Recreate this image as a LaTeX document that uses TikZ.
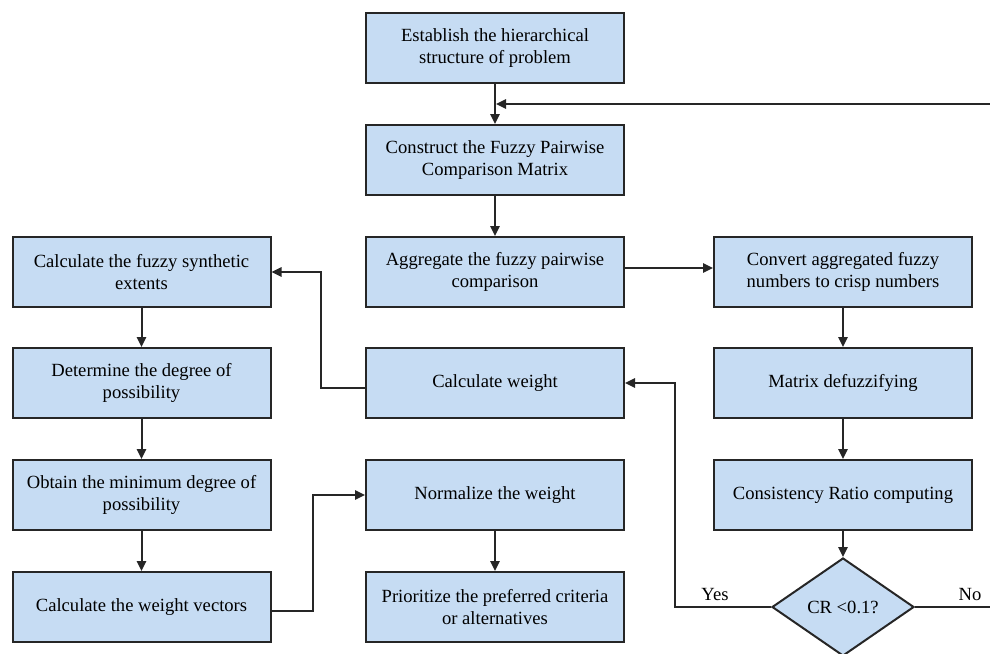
\documentclass[tikz,border=0pt]{standalone}
\usepackage{fontspec}
\setmainfont{Liberation Serif}
\usetikzlibrary{shapes.geometric,arrows.meta}
\definecolor{boxfill}{HTML}{C6DCF3}
\definecolor{linec}{HTML}{262626}
\tikzset{
  flowbox/.style={draw=linec, line width=1pt, fill=boxfill, minimum width=129pt, minimum height=35pt, inner sep=1pt, align=center, text=black, font=\fontsize{9.3}{10.85}\selectfont},
  decbox/.style={diamond, draw=linec, line width=1pt, fill=boxfill, minimum width=71pt, minimum height=49pt, inner sep=0pt, aspect=1.45, text=black, font=\fontsize{9.3}{10.85}\selectfont},
  conn/.style={draw=linec, line width=1pt},
  arr/.style={conn, -{Triangle[length=5pt,width=4.6pt]}},
  lbl/.style={font=\fontsize{9.3}{10.85}\selectfont, text=black, inner sep=0pt}
}
\begin{document}
\begin{tikzpicture}[x=0.5pt,y=-0.5pt]
\useasboundingbox (0,0) rectangle (990,653);
\clip (0,0) rectangle (990,653);
% middle column
\node[flowbox] (n1) at (495,48) {Establish the hierarchical\\structure of problem};
\node[flowbox] (n2) at (495,160) {Construct the Fuzzy Pairwise\\Comparison Matrix};
\node[flowbox] (n3) at (495,272) {Aggregate the fuzzy pairwise\\comparison};
\node[flowbox] (n4) at (495,383) {Calculate weight};
\node[flowbox] (n5) at (495,495) {Normalize the weight};
\node[flowbox] (n6) at (495,607) {Prioritize the preferred criteria\\or alternatives};
% left column
\node[flowbox] (l1) at (141.5,272) {Calculate the fuzzy synthetic\\extents};
\node[flowbox] (l2) at (141.5,383) {Determine the degree of\\possibility};
\node[flowbox] (l3) at (141.5,495) {Obtain the minimum degree of\\possibility};
\node[flowbox] (l4) at (141.5,607) {Calculate the weight vectors};
% right column
\node[flowbox] (r1) at (843,272) {Convert aggregated fuzzy\\numbers to crisp numbers};
\node[flowbox] (r2) at (843,383) {Matrix defuzzifying};
\node[flowbox] (r3) at (843,495) {Consistency Ratio computing};
\node[decbox] (d) at (843,607) {CR <0.1?};
% labels
\node[lbl] (yes) at (715,594) {Yes};
\node[lbl] (no) at (970,594) {No};
% coordinates
\coordinate (m) at (496,104);
% connectors
\draw[arr] (n1) -- (n2);
\draw[arr] (n2) -- (n3);
\draw[arr] ([yshift=2pt]n3.east) -- ([yshift=2pt]r1.west);
\draw[arr] (r1) -- (r2);
\draw[arr] (r2) -- (r3);
\draw[arr] (r3) -- (d);
\draw[arr] (n5) -- (n6);
\draw[arr] (l1) -- (l2);
\draw[arr] (l2) -- (l3);
\draw[arr] (l3) -- (l4);
\draw[arr] ([yshift=-2.5pt]n4.west) -| (321,330) |- (l1.east);
\draw[arr] ([yshift=-2pt]l4.east) -| (313,550) |- (n5.west);
\draw[arr] (d.west) -| (675,450) |- (n4.east);
\draw[arr] (d.east) -| (1000,300) |- (m);
\end{tikzpicture}
\end{document}
